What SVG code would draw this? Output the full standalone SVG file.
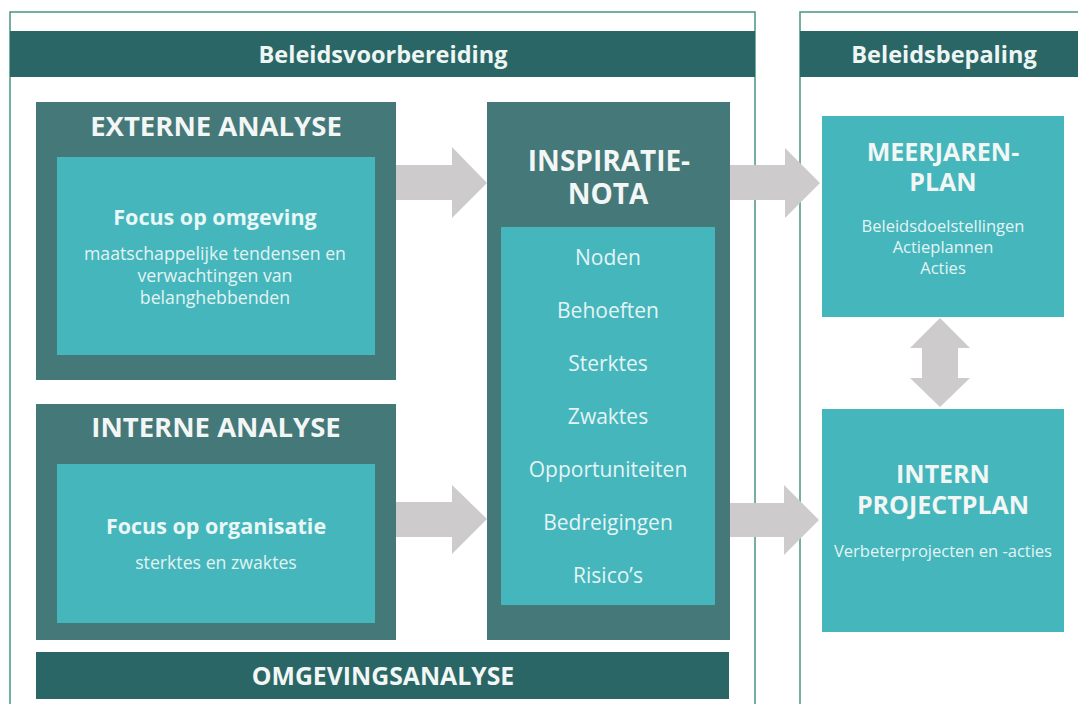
<svg xmlns="http://www.w3.org/2000/svg" width="1078" height="704" viewBox="0 0 1078 704">
<style>
  .frame{fill:#ffffff;stroke:#4a9483;stroke-width:1.5}
  .band{fill:#2a6666}
  .outer{fill:#457879}
  .inner{fill:#45b6bc}
  .arrow{fill:#cdcbcb}
  text{font-family:"Open Sans","Noto Sans","DejaVu Sans",sans-serif;text-anchor:middle}
  .hb{fill:#eef6f4;font-weight:bold;font-size:23.5px}
  .title{fill:#f2f6f5;font-weight:bold;font-size:27.5px}
  .sub{fill:#eaf7f7;font-weight:bold;font-size:21.5px}
  .body{fill:#e2f3f3;font-size:17.7px}
  .list{fill:#e4f4f4;font-size:21px}
  .small{fill:#e4f4f4;font-size:16.5px}
</style>
<rect width="1078" height="704" fill="#ffffff"/>

<g id="beleidsvoorbereiding">
  <rect class="frame" x="10" y="12" width="745" height="700"/>
  <rect class="band" x="10" y="31" width="745" height="46"/>
  <text class="hb" x="383" y="63">Beleidsvoorbereiding</text>
</g>
<g id="beleidsbepaling">
  <rect class="frame" x="800" y="12" width="290" height="700"/>
  <rect class="band" x="800" y="31" width="290" height="46"/>
  <text class="hb" x="944" y="63">Beleidsbepaling</text>
</g>

<g id="connectors">
  <polygon class="arrow" points="396,165 452,165 452,147 487,183 452,218 452,200 396,200"/>
  <polygon class="arrow" points="396,502 452,502 452,485 487,519 452,554 452,537 396,537"/>
  <polygon class="arrow" points="730,165 785,165 785,148 820,183 785,218 785,200 730,200"/>
  <polygon class="arrow" points="730,503 784,503 784,485 819,520 784,555 784,537 730,537"/>
  <polygon class="arrow" points="940,318 970,348 958,348 958,378 970,378 940,407 910,378 922,378 922,348 910,348"/>
</g>

<g id="externe-analyse">
  <rect class="outer" x="36" y="102" width="360" height="278"/>
  <rect class="inner" x="57" y="157" width="318" height="198"/>
  <text class="title" x="216" y="136">EXTERNE ANALYSE</text>
  <text class="sub" x="215" y="225">Focus op omgeving</text>
  <text class="body" x="215" y="260">maatschappelijke tendensen en</text>
  <text class="body" x="215" y="282">verwachtingen van</text>
  <text class="body" x="215" y="304">belanghebbenden</text>
</g>

<g id="interne-analyse">
  <rect class="outer" x="36" y="404" width="360" height="236"/>
  <rect class="inner" x="57" y="464" width="318" height="159"/>
  <text class="title" x="216" y="437">INTERNE ANALYSE</text>
  <text class="sub" x="216" y="534">Focus op organisatie</text>
  <text class="body" x="216" y="569">sterktes en zwaktes</text>
</g>

<g id="omgevingsanalyse">
  <rect class="band" x="36" y="652" width="693" height="47"/>
  <text class="title" x="383" y="685" style="font-size:24.8px">OMGEVINGSANALYSE</text>
</g>

<g id="inspiratienota">
  <rect class="outer" x="487" y="102" width="243" height="538"/>
  <rect class="inner" x="501" y="227" width="214" height="378"/>
  <text class="title" x="609" y="171" style="font-size:28px">INSPIRATIE-</text>
  <text class="title" x="608" y="204" style="font-size:28px">NOTA</text>
  <text class="list" x="608" y="265">Noden</text>
  <text class="list" x="608" y="318">Behoeften</text>
  <text class="list" x="608" y="371">Sterktes</text>
  <text class="list" x="608" y="424">Zwaktes</text>
  <text class="list" x="608" y="477">Opportuniteiten</text>
  <text class="list" x="608" y="530">Bedreigingen</text>
  <text class="list" x="608" y="583">Risico’s</text>
</g>

<g id="meerjarenplan">
  <rect class="inner" x="822" y="116" width="242" height="201"/>
  <text class="title" x="943" y="161" style="font-size:25px">MEERJAREN-</text>
  <text class="title" x="943" y="191" style="font-size:25px">PLAN</text>
  <text class="small" x="943" y="232">Beleidsdoelstellingen</text>
  <text class="small" x="943" y="253">Actieplannen</text>
  <text class="small" x="943" y="274">Acties</text>
</g>

<g id="intern-projectplan">
  <rect class="inner" x="822" y="409" width="242" height="223"/>
  <text class="title" x="943" y="483" style="font-size:25px">INTERN</text>
  <text class="title" x="943" y="514" style="font-size:25px">PROJECTPLAN</text>
  <text class="small" x="943" y="557">Verbeterprojecten en -acties</text>
</g>
</svg>
